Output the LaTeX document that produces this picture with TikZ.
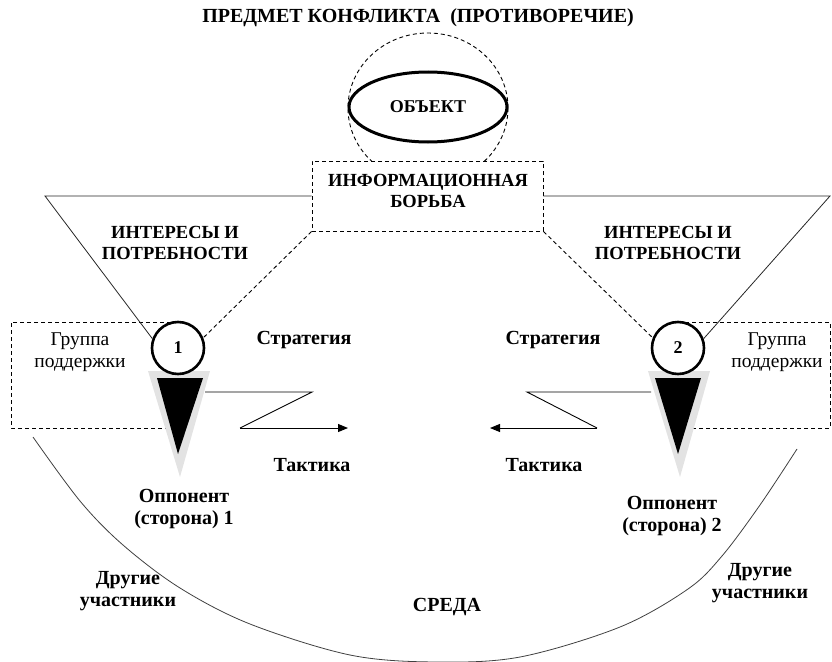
\documentclass[tikz,border=0pt]{standalone}
\usepackage{fontspec}
\setmainfont{Liberation Serif}
\usetikzlibrary{arrows.meta,shapes.geometric}

\begin{document}
\begin{tikzpicture}[x=1pt,y=-1pt,
  lbl/.style={font=\fontsize{20}{22}\selectfont\bfseries, align=center, inner sep=0pt},
  caps/.style={font=\fontsize{18.5}{21}\selectfont\bfseries, align=center, inner sep=0pt},
  plain/.style={font=\fontsize{19.5}{21.5}\selectfont, align=center, inner sep=0pt},
  thin/.style={line width=0.8pt, draw=black!85},
  dashline/.style={line width=0.9pt, dash pattern=on 4pt off 3pt},
  person/.style={circle, draw, fill=white, line width=2.6pt, minimum size=52pt, inner sep=0pt,
                 font=\fontsize{18}{20}\selectfont\bfseries},
  halo/.style={fill=black!11},
  tip/.style={-{Triangle[length=10pt,width=8pt]}, line width=1pt},
  zig/.style={line width=0.9pt}
]
\useasboundingbox (0,0) rectangle (832,661);

% subject of the conflict
\node (title) [caps, font=\fontsize{20}{22}\selectfont\bfseries] at (418,18) {ПРЕДМЕТ КОНФЛИКТА\ \ (ПРОТИВОРЕЧИЕ)};
\node (subj) [ellipse, draw, dashline, minimum width=160pt, minimum height=150pt, inner sep=0pt] at (428,108) {};
\node (obj) [ellipse, draw, line width=3pt, minimum width=158pt, minimum height=70pt, inner sep=0pt,
             font=\fontsize{18}{20}\selectfont\bfseries] at (428,107) {ОБЪЕКТ};

% information struggle box
\node (info) [draw, dashline, fill=white, minimum width=231pt, minimum height=70pt, inner sep=0pt] at (427.5,196) {};
\node (infotext) [caps] at (428,191) {ИНФОРМАЦИОННАЯ\\БОРЬБА};

% support groups (drawn under the figures)
\draw[dashline] (178,322) -- (11,322) -- (11,428) -- (178,428);
\draw[dashline] (678,322) -- (830,322) -- (830,428) -- (678,428);

% environment arc
\draw[thin, draw=black!75] plot[smooth, tension=0.55] coordinates {
  (33,437) (80,501) (123,545) (180,588) (250,624) (350,655) (435,662)
  (520,657) (620,627) (688,589) (722,556) (760,505) (797,449)};

% opponent 1
\fill[halo] (148,371) -- (210,371) -- (180,477) -- cycle;
\fill[black] (157,378) -- (203,378) -- (178,454) -- cycle;
\node (p1) [person] at (178,348) {1};

% opponent 2
\fill[halo] (648,371) -- (710,371) -- (680,477) -- cycle;
\fill[black] (655,378) -- (701,378) -- (678,454) -- cycle;
\node (p2) [person] at (678,348) {2};

% interest funnels
\coordinate (fl) at (45,196);
\coordinate (fr) at (830,196);
\draw[thin] (info.west) -- (fl) -- (p1.160);
\draw[dashline] (info.south west) -- (p1.22);
\draw[thin] (info.east) -- (fr) -- (p2.20);
\draw[dashline] (info.south east) -- (p2.158);

% strategy / tactics zigzags
\coordinate (s1) at (205,392);
\coordinate (s1a) at (312,392);
\coordinate (s1b) at (240,428);
\coordinate (t1) at (348,428);
\draw[zig] (s1) -- (s1a) -- (s1b);
\draw[tip] (s1b) -- (t1);
\coordinate (s2) at (651,392);
\coordinate (s2a) at (527,392);
\coordinate (s2b) at (597,428);
\coordinate (t2) at (490,428);
\draw[zig] (s2) -- (s2a) -- (s2b);
\draw[tip] (s2b) -- (t2);

% labels
\node (int1) [caps] at (175,243) {ИНТЕРЕСЫ И\\ПОТРЕБНОСТИ};
\node (int2) [caps] at (668,243) {ИНТЕРЕСЫ И\\ПОТРЕБНОСТИ};
\node (grp1) [plain] at (80,352) {Группа\\поддержки};
\node (grp2) [plain] at (777,352) {Группа\\поддержки};
\node (str1) [lbl] at (304,340) {Стратегия};
\node (str2) [lbl] at (553,340) {Стратегия};
\node (tac1) [lbl] at (312,465) {Тактика};
\node (tac2) [lbl] at (544,465) {Тактика};
\node (opp1) [lbl] at (184,509) {Оппонент\\(сторона) 1};
\node (opp2) [lbl] at (672,516) {Оппонент\\(сторона) 2};
\node (oth1) [lbl] at (128,591) {Другие\\участники};
\node (oth2) [lbl] at (760,583) {Другие\\участники};
\node (env) [lbl] at (447,607) {СРЕДА};
\end{tikzpicture}
\end{document}
